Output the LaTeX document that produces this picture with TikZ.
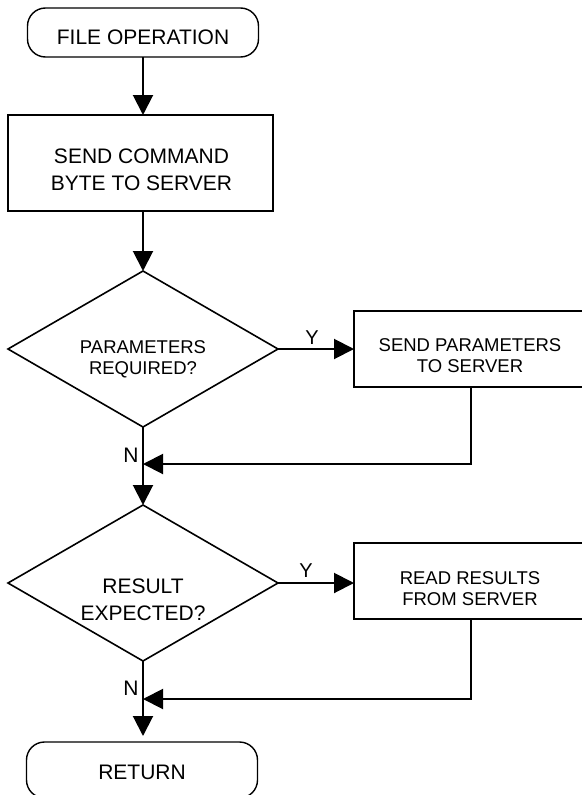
\documentclass[tikz,border=0pt]{standalone}
\usepackage{fontspec}
\setmainfont{Liberation Sans}
\usetikzlibrary{arrows.meta,shapes.geometric,calc}

\begin{document}
\begin{tikzpicture}[x=1pt,y=-1pt,
  every node/.style={inner sep=0pt, outer sep=0pt},
  term/.style={draw, line width=1.4pt, rectangle, rounded corners=18pt,
    minimum width=231pt, minimum height=49pt},
  procbox/.style={draw, line width=2pt, rectangle},
  decision/.style={draw, line width=1.6pt, diamond,
    minimum width=270pt, minimum height=156pt},
  bigtxt/.style={font=\fontsize{21}{27}\selectfont, align=center},
  smalltxt/.style={font=\fontsize{18.5}{21}\selectfont, align=center},
  lbl/.style={font=\fontsize{20}{20}\selectfont},
  flow/.style={line width=2pt, -{Triangle[length=20pt,width=20pt]}}
]
\useasboundingbox (0,0) rectangle (581,795);

% shapes
\node[term] (start) at (143,32.5) {};
\node[bigtxt] (startT) at (143,37) {FILE OPERATION};

\node[procbox, minimum width=265pt, minimum height=96pt] (cmd) at (140.5,163) {};
\node[bigtxt] (cmdT) at (141.5,169.4) {SEND COMMAND\\BYTE TO SERVER};

\node[decision] (q1) at (143,349) {};
\node[smalltxt] (q1T) at (143,359.5) {PARAMETERS\\REQUIRED?};

\node[procbox, minimum width=234pt, minimum height=76pt] (par) at (471,349) {};
\node[smalltxt] (parT) at (470,355.5) {SEND PARAMETERS\\TO SERVER};

\node[decision] (q2) at (143,583) {};
\node[bigtxt] (q2T) at (143,600) {RESULT\\EXPECTED?};

\node[procbox, minimum width=234pt, minimum height=76pt] (res) at (471,581) {};
\node[smalltxt] (resT) at (470,589) {READ RESULTS\\FROM SERVER};

\node[term, minimum height=56pt] (ret) at (142,770) {};
\node[bigtxt] (retT) at (142,772) {RETURN};

% junction points of the return paths
\coordinate (j1) at (143,464);
\coordinate (j2) at (143,699);

% connectors
\draw[flow] (start.south) -- (start.south |- cmd.north);
\draw[flow] (cmd.south -| q1.north) -- (q1.north);
\draw[flow] (q1.east) -- (q1.east -| par.west);
\draw[flow] (par.south) |- (j1);
\draw[flow] (q1.south) -- (q2.north);
\draw[flow] (q2.east) -- (q2.east -| res.west);
\draw[flow] (res.south) |- (j2);
\draw[flow, shorten >=6pt] (q2.south) -- (q2.south |- ret.north);

% branch labels
\node[lbl] (y1) at (312,338) {Y};
\node[lbl] (y2) at (306,571) {Y};
\node[lbl, font=\fontsize{21}{21}\selectfont] (n1) at (131,455.5) {N};
\node[lbl, font=\fontsize{21}{21}\selectfont] (n2) at (131,688) {N};
\end{tikzpicture}
\end{document}
